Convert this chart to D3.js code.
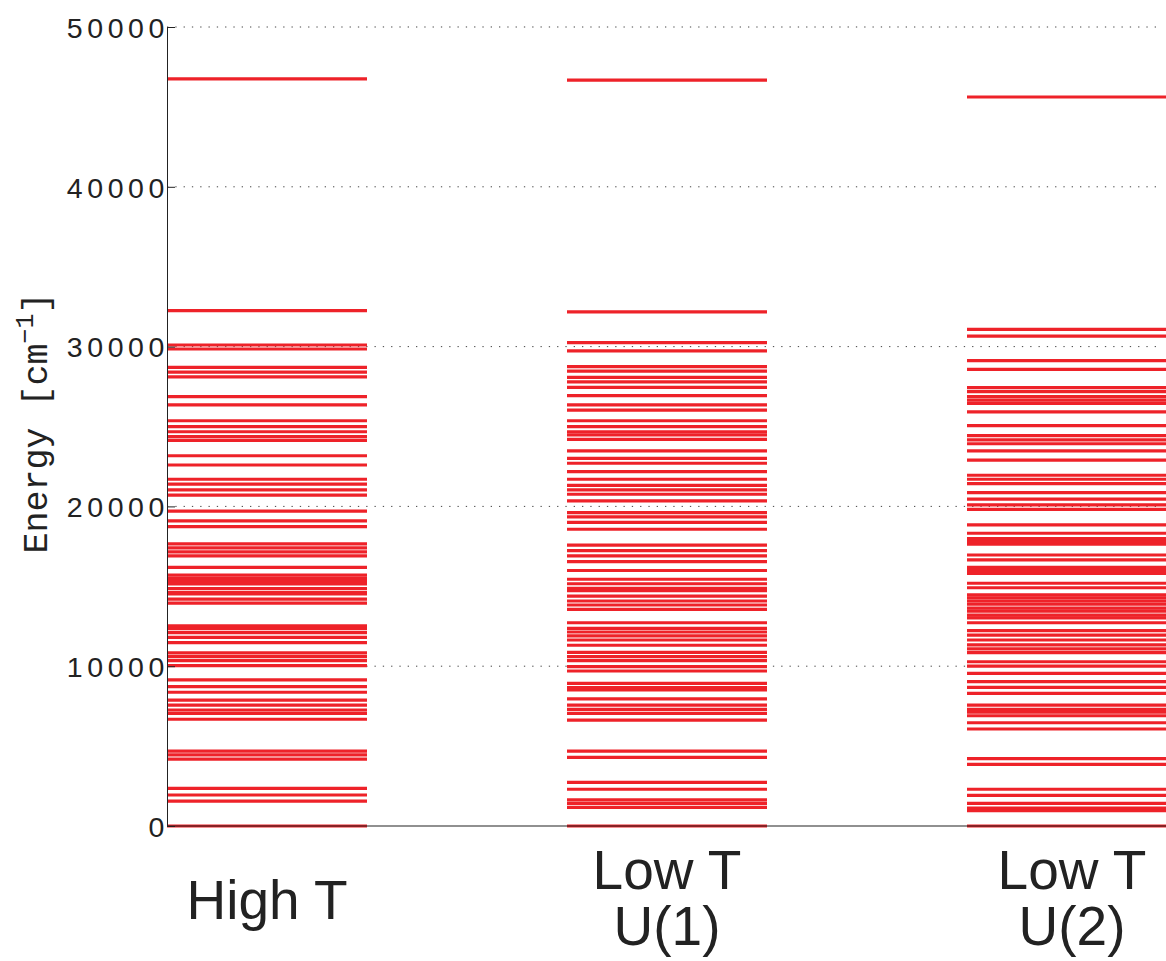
<!DOCTYPE html>
<html>
<head>
<meta charset="utf-8">
<script src="https://cdn.jsdelivr.net/npm/d3@7.9.0/dist/d3.min.js"></script>
<style>
  body { margin: 0; background: #fff; }
  svg { display: block; }
</style>
</head>
<body>
<svg id="chart" width="1166" height="961"></svg>
<script>
// energy levels (cm^-1)
const highT = [0, 1560, 1940, 2360, 4190, 4450, 4690, 6680, 7050, 7260, 7570, 7880,
  8370, 8720, 9140, 10030, 10350, 10600, 10830, 11470, 11810, 12100, 12350, 12520,
  13950, 14200, 14520, 14600, 14850, 15150, 15300, 15500, 15700, 16190,
  16900, 17150, 17400, 17650, 18730, 19100, 19710, 20710, 21030, 21400, 21700,
  22590, 23170, 24130, 24370, 24670, 24990, 25360, 26350, 26870, 28100, 28400,
  28700, 29850, 30100, 32246, 46750];
const lowT1 = [0, 1170, 1420, 1630, 2300, 2730, 4300, 4690, 6630, 7050, 7300, 7570,
  7950, 8510, 8660, 8930, 9700, 9970, 10350, 10600, 10870, 11310, 11640, 11900,
  12140, 12370, 12720, 13560, 13830, 14080, 14390, 14730, 14870, 15160, 15440,
  15990, 16540, 16910, 17230, 17580, 18570, 19000, 19350, 19610, 20340, 20760,
  21030, 21320, 21700, 22170, 22700, 23010, 23470, 24190, 24470, 24670, 24990,
  25360, 26030, 26350, 26930, 27450, 27790, 28080, 28470, 28750, 29730, 30250,
  32170, 46680];
const lowT2 = [0, 960, 1120, 1420, 1920, 2300, 3860, 4210, 6070, 6460, 6900, 7130,
  7300, 7570, 8300, 8680, 9030, 9550, 10010, 10280, 10850, 11080, 11330, 11640,
  11950, 12220, 12720, 13020, 13200, 13450, 13640, 13890, 14080, 14270, 14460,
  14910, 15190, 15810, 16000, 16190, 16650, 16960, 17630, 17790, 17980, 18320,
  18850, 19820, 20090, 20450, 20860, 21420, 21700, 21950, 22900, 23470, 23920,
  24160, 24430, 25050, 25910, 26450, 26650, 26870, 27180, 27430, 28580, 29120,
  30660, 31080, 45620];

const columns = [
  { label: ['High T'], levels: highT, x0: 1 },
  { label: ['Low T', 'U(1)'], levels: lowT1, x0: 3 },
  { label: ['Low T', 'U(2)'], levels: lowT2, x0: 5 }
];
const yTicks = [0, 10000, 20000, 30000, 40000, 50000];

const svg = d3.select('#chart');
const m = { left: 167, right: 1167, top: 27, bottom: 826 };

const x = d3.scaleLinear().domain([1, 6]).range([m.left, m.right]);
const y = d3.scaleLinear().domain([0, 50000]).range([m.bottom, m.top]);

// dotted grid
svg.append('g')
  .selectAll('line')
  .data(yTicks.filter(d => d > 0))
  .join('line')
  .attr('x1', m.left).attr('x2', 1160)
  .attr('y1', d => y(d)).attr('y2', d => y(d))
  .attr('stroke', '#444')
  .attr('stroke-width', 1)
  .attr('stroke-dasharray', '1.3,7');

// energy levels
columns.forEach(col => {
  svg.append('g')
    .selectAll('line')
    .data(col.levels)
    .join('line')
    .attr('x1', x(col.x0)).attr('x2', x(col.x0 + 1))
    .attr('y1', d => y(d)).attr('y2', d => y(d))
    .attr('stroke', '#ee2229')
    .attr('stroke-width', 3.2);
});

// axes
const yAxis = d3.axisLeft(y).tickValues(yTicks).tickSize(-8).tickPadding(-2).tickFormat(d3.format('d'));
const gy = svg.append('g').attr('transform', `translate(${m.left},0)`).call(yAxis);
gy.select('.domain').attr('stroke', '#222').attr('stroke-width', 1);
gy.selectAll('.tick line').attr('stroke', '#222');
gy.selectAll('.tick text')
  .attr('font-family', '"Liberation Sans", Arial, sans-serif')
  .attr('font-size', 28.5)
  .attr('letter-spacing', 4.6)
  .attr('fill', '#222')
  .attr('dy', '0.36em');

svg.append('line')
  .attr('x1', m.left).attr('x2', m.right)
  .attr('y1', m.bottom).attr('y2', m.bottom)
  .attr('stroke', '#222').attr('stroke-width', 1.2);

// y label
const yl = svg.append('text')
  .attr('transform', 'translate(47,423) rotate(-90)')
  .attr('text-anchor', 'middle')
  .attr('font-family', '"Liberation Mono", "Courier New", monospace')
  .attr('font-size', 35)
  .attr('fill', '#222');
yl.append('tspan').text('Energy [cm');
yl.append('tspan').attr('dy', -14).attr('font-size', 25).text('\u22121');
yl.append('tspan').attr('dy', 14).text(']');

// category labels
columns.forEach(col => {
  const cx = x(col.x0 + 0.5) + (col.x0 === 5 ? 5 : 0);
  const t = svg.append('text')
    .attr('text-anchor', 'middle')
    .attr('font-family', '"Liberation Sans", Arial, sans-serif')
    .attr('font-size', 55)
    .attr('fill', '#222');
  const y0 = col.label.length === 1 ? 919 : 889;
  col.label.forEach((s, i) => {
    t.append('tspan').attr('x', cx).attr('y', y0 + i * 56).text(s);
  });
});
</script>
</body>
</html>
